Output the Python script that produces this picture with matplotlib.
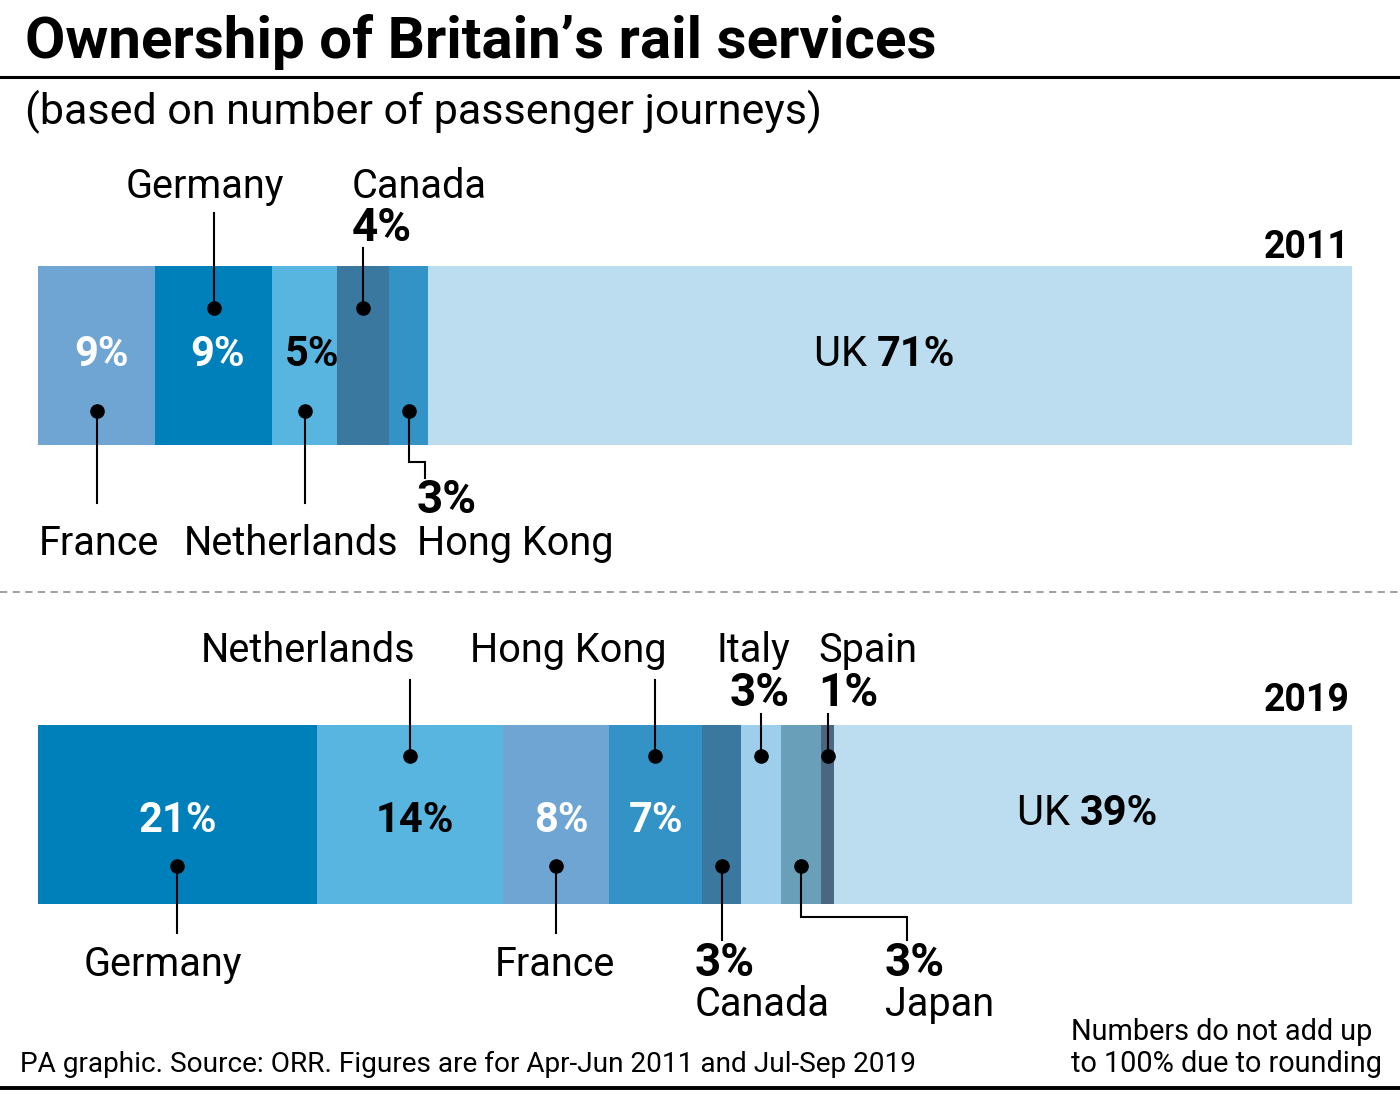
import matplotlib.pyplot as plt

plt.rcParams['font.family'] = ['Roboto', 'DejaVu Sans']

# Shares (%)
countries_2011 = ['France', 'Germany', 'Netherlands', 'Canada', 'Hong Kong', 'UK']
shares_2011 = [9, 9, 5, 4, 3, 71]

countries_2019 = ['Germany', 'Netherlands', 'France', 'Hong Kong', 'Canada',
                  'Italy', 'Japan', 'Spain', 'UK']
shares_2019 = [21, 14, 8, 7, 3, 3, 3, 1, 39]

colours = {
    'France': '#6fa5d2',
    'Germany': '#0080bb',
    'Netherlands': '#57b5df',
    'Canada': '#3a78a0',
    'Hong Kong': '#3392c6',
    'Italy': '#9dcfec',
    'Japan': '#6a9fba',
    'Spain': '#4a6680',
    'UK': '#bcdcf0',
}

W, H = 1400, 1099
fig = plt.figure(figsize=(W / 100, H / 100), dpi=100)

# overlay axes in pixel units for headings, rules and labels (kept on top)
ov = fig.add_axes([0, 0, 1, 1])
ov.set_xlim(0, W)
ov.set_ylim(H, 0)
ov.axis('off')
ov.set_zorder(10)
ov.patch.set_alpha(0)

BAR_L, BAR_R = 38, 1352


def bar_axes(top, bottom):
    ax = fig.add_axes([BAR_L / W, 1 - bottom / H, (BAR_R - BAR_L) / W, (bottom - top) / H])
    ax.set_ylim(-0.5, 0.5)
    ax.axis('off')
    return ax


def draw_bar(ax, countries, shares):
    total = sum(shares)
    ax.set_xlim(0, total)
    left = 0
    centres = {}
    for c, s in zip(countries, shares):
        ax.barh(0, s, left=left, height=1, color=colours[c], edgecolor='none')
        centres[c] = left + s / 2
        left += s
    return centres, total / (BAR_R - BAR_L)


def leader(ax, x, y_dot, pts):
    # pts: list of (dx in data units, y in axes fraction) after the dot
    tr = ax.get_xaxis_transform()
    xs, ys = [x], [y_dot]
    for dx, yy in pts:
        xs.append(x + dx)
        ys.append(yy)
    ax.plot(xs, ys, color='black', lw=1.5, transform=tr, clip_on=False,
            solid_joinstyle='miter')
    ax.plot([x], [y_dot], 'o', color='black', ms=9.5, transform=tr, clip_on=False)


LAB = 28.5
PCT = 33      # bold % next to labels
INB = 30      # % inside the bars

# ---------- header ----------
ov.text(25, 58, 'Ownership of Britain\u2019s rail services', fontsize=42,
        fontweight='bold', va='baseline', ha='left')
ov.plot([0, W], [77, 77], color='black', lw=2.2)
ov.text(25, 124, '(based on number of passenger journeys)', fontsize=31,
        va='baseline', ha='left')

# ---------- 2011 ----------
ax1 = bar_axes(266, 445)
c1, k1 = draw_bar(ax1, countries_2011, shares_2011)

ov.text(1350, 258, '2011', fontsize=27, fontweight='bold', ha='right', va='baseline')

in_bar_2011 = [('France', 102, 'white'), ('Germany', 218, 'white'), ('Netherlands', 312, 'black')]
for (c, x, col) in in_bar_2011:
    s = shares_2011[countries_2011.index(c)]
    ov.text(x, 366, f'{s}%', fontsize=INB, fontweight='bold', color=col,
            ha='center', va='baseline')

uk11 = shares_2011[countries_2011.index('UK')]
ov.text(877, 366, 'UK ', fontsize=INB, ha='right', va='baseline')
ov.text(877, 366, f'{uk11}%', fontsize=INB, fontweight='bold', ha='left', va='baseline')

leader(ax1, c1['Germany'], 0.765, [(0, 1.296)])
ov.text(205, 198, 'Germany', fontsize=LAB, ha='center', va='baseline')

leader(ax1, c1['Canada'], 0.765, [(0, 1.10)])
ov.text(352, 198, 'Canada', fontsize=LAB, ha='left', va='baseline')
ov.text(352, 241, f"{shares_2011[countries_2011.index('Canada')]}%", fontsize=PCT,
        fontweight='bold', ha='left', va='baseline')

leader(ax1, c1['France'], 0.19, [(0, -0.324)])
ov.text(99, 555, 'France', fontsize=LAB, ha='center', va='baseline')

leader(ax1, c1['Netherlands'], 0.19, [(0, -0.324)])
ov.text(291, 555, 'Netherlands', fontsize=LAB, ha='center', va='baseline')

leader(ax1, c1['Hong Kong'], 0.19, [(0, -0.095), (16 * k1, -0.095), (16 * k1, -0.184)])
ov.text(417, 513, f"{shares_2011[countries_2011.index('Hong Kong')]}%", fontsize=PCT,
        fontweight='bold', ha='left', va='baseline')
ov.text(417, 555, 'Hong Kong', fontsize=LAB, ha='left', va='baseline')

# separator
ov.plot([0, W], [592, 592], color='#999999', lw=1.3, ls=(0, (4, 3)))

# ---------- 2019 ----------
ax2 = bar_axes(725, 904)
c2, k2 = draw_bar(ax2, countries_2019, shares_2019)

ov.text(1350, 711, '2019', fontsize=27, fontweight='bold', ha='right', va='baseline')

in_bar_2019 = [('Germany', 178, 'white'), ('Netherlands', 415, 'black'),
               ('France', 561, 'white'), ('Hong Kong', 656, 'white')]
for (c, x, col) in in_bar_2019:
    s = shares_2019[countries_2019.index(c)]
    ov.text(x, 832, f'{s}%', fontsize=INB, fontweight='bold', color=col,
            ha='center', va='baseline')

uk19 = shares_2019[countries_2019.index('UK')]
ov.text(1080, 825, 'UK ', fontsize=INB, ha='right', va='baseline')
ov.text(1080, 825, f'{uk19}%', fontsize=INB, fontweight='bold', ha='left', va='baseline')

leader(ax2, c2['Netherlands'], 0.827, [(0, 1.251)])
ov.text(308, 662, 'Netherlands', fontsize=LAB, ha='center', va='baseline')

leader(ax2, c2['Hong Kong'], 0.827, [(0, 1.251)])
ov.text(568, 662, 'Hong Kong', fontsize=LAB, ha='center', va='baseline')

leader(ax2, c2['Italy'], 0.827, [(0, 1.061)])
ov.text(790, 662, 'Italy', fontsize=LAB, ha='right', va='baseline')
ov.text(790, 706, f"{shares_2019[countries_2019.index('Italy')]}%", fontsize=PCT,
        fontweight='bold', ha='right', va='baseline')

leader(ax2, c2['Spain'], 0.827, [(0, 1.061)])
ov.text(818, 662, 'Spain', fontsize=LAB, ha='left', va='baseline')
ov.text(818, 706, f"{shares_2019[countries_2019.index('Spain')]}%", fontsize=PCT,
        fontweight='bold', ha='left', va='baseline')

leader(ax2, c2['Germany'], 0.212, [(0, -0.162)])
ov.text(163, 976, 'Germany', fontsize=LAB, ha='center', va='baseline')

leader(ax2, c2['France'], 0.212, [(0, -0.162)])
ov.text(555, 976, 'France', fontsize=LAB, ha='center', va='baseline')

leader(ax2, c2['Canada'], 0.212, [(0, -0.201)])
ov.text(695, 976, f"{shares_2019[countries_2019.index('Canada')]}%", fontsize=PCT,
        fontweight='bold', ha='left', va='baseline')
ov.text(695, 1016, 'Canada', fontsize=LAB, ha='left', va='baseline')

leader(ax2, c2['Japan'], 0.212, [(0, -0.073), (106 * k2, -0.073), (106 * k2, -0.201)])
ov.text(885, 976, f"{shares_2019[countries_2019.index('Japan')]}%", fontsize=PCT,
        fontweight='bold', ha='left', va='baseline')
ov.text(885, 1016, 'Japan', fontsize=LAB, ha='left', va='baseline')

# ---------- footer ----------
ov.text(20, 1072, 'PA graphic. Source: ORR. Figures are for Apr-Jun 2011 and Jul-Sep 2019',
        fontsize=20.2, ha='left', va='baseline')
ov.text(1071, 1040, 'Numbers do not add up', fontsize=20.8, ha='left', va='baseline')
ov.text(1071, 1072, 'to 100% due to rounding', fontsize=20.8, ha='left', va='baseline')
ov.plot([0, W], [1088, 1088], color='black', lw=2.8)

fig.savefig('out.png', dpi=100)
